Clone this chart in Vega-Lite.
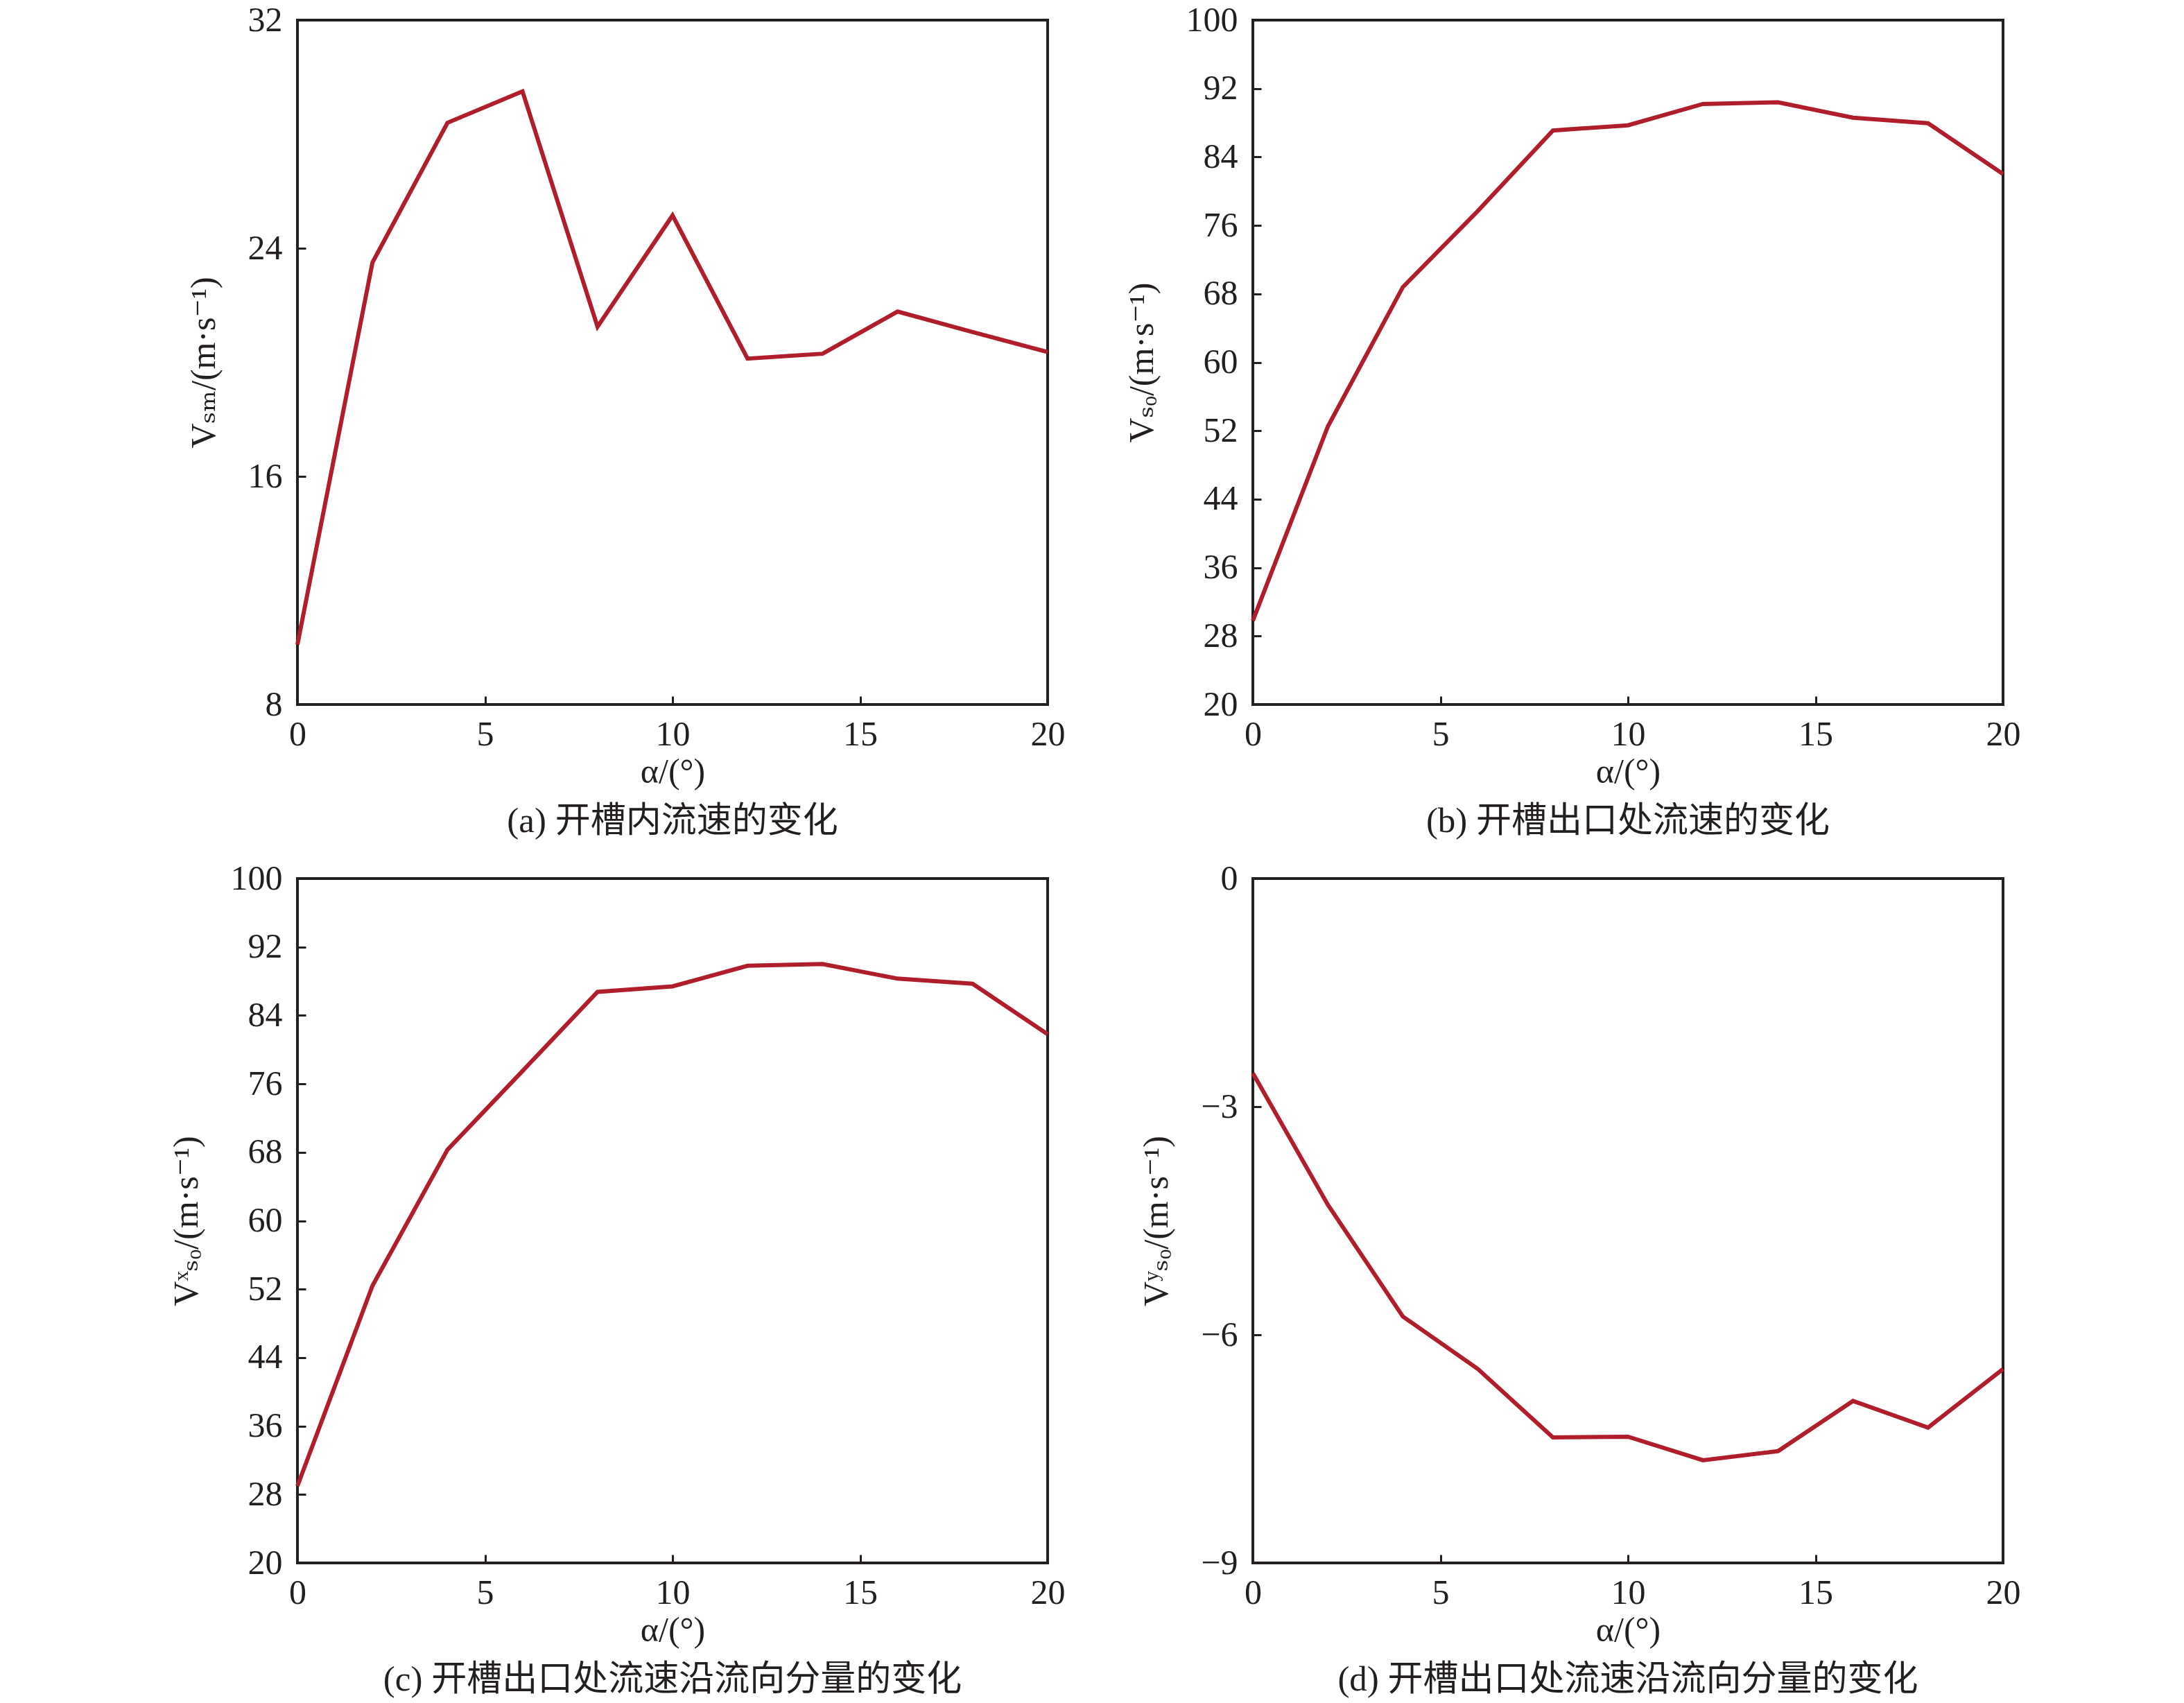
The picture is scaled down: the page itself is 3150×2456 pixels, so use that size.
{
  "$schema": "https://vega.github.io/schema/vega-lite/v6.json",
  "autosize": {"type": "pad"},
  "padding": {"left": 242, "top": 2, "right": 10, "bottom": 10},
  "background": "white",
  "config": {
    "font": "Liberation Serif, Noto Sans CJK SC, serif",
    "view": {"stroke": "#231f20", "strokeWidth": 4},
    "axis": {
      "domain": false, "grid": false, "ticks": true, "tickSize": -12, "tickWidth": 3, "tickColor": "#231f20",
      "labelFont": "Liberation Serif", "labelFontSize": 50, "labelColor": "#231f20", "labelFlush": false,
      "titleFont": "Liberation Serif, DejaVu Serif, serif", "titleFontSize": 50, "titleFontWeight": "normal", "titleColor": "#231f20"
    },
    "axisX": {"labelPadding": 30, "titlePadding": 4},
    "axisY": {"labelPadding": 34, "titlePadding": 38},
    "title": {"orient": "bottom", "fontSize": 51, "fontWeight": "normal", "font": "Liberation Serif, Noto Sans CJK SC, serif", "color": "#231f20", "offset": 22}
  },
  "datasets": {
    "a": [
      {"alpha": 0, "v": 10.1}, {"alpha": 2, "v": 23.5}, {"alpha": 4, "v": 28.4}, {"alpha": 6, "v": 29.5},
      {"alpha": 8, "v": 21.25}, {"alpha": 10, "v": 25.15}, {"alpha": 12, "v": 20.13}, {"alpha": 14, "v": 20.3},
      {"alpha": 16, "v": 21.78}, {"alpha": 18, "v": 21.06}, {"alpha": 20, "v": 20.36}
    ],
    "b": [
      {"alpha": 0, "v": 29.8}, {"alpha": 2, "v": 52.5}, {"alpha": 4, "v": 68.8}, {"alpha": 6, "v": 77.7},
      {"alpha": 8, "v": 87.1}, {"alpha": 10, "v": 87.7}, {"alpha": 12, "v": 90.2}, {"alpha": 14, "v": 90.4},
      {"alpha": 16, "v": 88.6}, {"alpha": 18, "v": 87.95}, {"alpha": 20, "v": 82.0}
    ],
    "c": [
      {"alpha": 0, "v": 29.0}, {"alpha": 2, "v": 52.4}, {"alpha": 4, "v": 68.3}, {"alpha": 6, "v": 77.5},
      {"alpha": 8, "v": 86.75}, {"alpha": 10, "v": 87.4}, {"alpha": 12, "v": 89.8}, {"alpha": 14, "v": 90.0},
      {"alpha": 16, "v": 88.3}, {"alpha": 18, "v": 87.7}, {"alpha": 20, "v": 81.8}
    ],
    "d": [
      {"alpha": 0, "v": -2.56}, {"alpha": 2, "v": -4.29}, {"alpha": 4, "v": -5.76}, {"alpha": 6, "v": -6.45},
      {"alpha": 8, "v": -7.35}, {"alpha": 10, "v": -7.34}, {"alpha": 12, "v": -7.65}, {"alpha": 14, "v": -7.53},
      {"alpha": 16, "v": -6.87}, {"alpha": 18, "v": -7.22}, {"alpha": 20, "v": -6.45}
    ]
  },
  "columns": 2,
  "spacing": {"row": 251, "column": 296},
  "bounds": "flush",
  "concat": [
    {
      "data": {"name": "a"}, "width": 1082, "height": 987,
      "title": "(a) 开槽内流速的变化",
      "mark": {"type": "line", "color": "#b01e2c", "strokeWidth": 6},
      "encoding": {
        "x": {"field": "alpha", "type": "quantitative", "scale": {"domain": [0, 20], "nice": false, "zero": false}, "axis": {"values": [0, 5, 10, 15, 20], "title": "α/(°)"}},
        "y": {"field": "v", "type": "quantitative", "scale": {"domain": [8, 32], "nice": false, "zero": false}, "axis": {"values": [8, 16, 24, 32], "title": "Vₛₘ/(m·s⁻¹)"}}
      }
    },
    {
      "data": {"name": "b"}, "width": 1082, "height": 987,
      "title": "(b) 开槽出口处流速的变化",
      "mark": {"type": "line", "color": "#b01e2c", "strokeWidth": 6},
      "encoding": {
        "x": {"field": "alpha", "type": "quantitative", "scale": {"domain": [0, 20], "nice": false, "zero": false}, "axis": {"values": [0, 5, 10, 15, 20], "title": "α/(°)"}},
        "y": {"field": "v", "type": "quantitative", "scale": {"domain": [20, 100], "nice": false, "zero": false}, "axis": {"values": [20, 28, 36, 44, 52, 60, 68, 76, 84, 92, 100], "title": "Vₛₒ/(m·s⁻¹)"}}
      }
    },
    {
      "data": {"name": "c"}, "width": 1082, "height": 987,
      "title": "(c) 开槽出口处流速沿流向分量的变化",
      "mark": {"type": "line", "color": "#b01e2c", "strokeWidth": 6},
      "encoding": {
        "x": {"field": "alpha", "type": "quantitative", "scale": {"domain": [0, 20], "nice": false, "zero": false}, "axis": {"values": [0, 5, 10, 15, 20], "title": "α/(°)"}},
        "y": {"field": "v", "type": "quantitative", "scale": {"domain": [20, 100], "nice": false, "zero": false}, "axis": {"values": [20, 28, 36, 44, 52, 60, 68, 76, 84, 92, 100], "title": "Vˣₛₒ/(m·s⁻¹)"}}
      }
    },
    {
      "data": {"name": "d"}, "width": 1082, "height": 987,
      "title": "(d) 开槽出口处流速沿流向分量的变化",
      "mark": {"type": "line", "color": "#b01e2c", "strokeWidth": 6},
      "encoding": {
        "x": {"field": "alpha", "type": "quantitative", "scale": {"domain": [0, 20], "nice": false, "zero": false}, "axis": {"values": [0, 5, 10, 15, 20], "title": "α/(°)"}},
        "y": {"field": "v", "type": "quantitative", "scale": {"domain": [-9, 0], "nice": false, "zero": false}, "axis": {"values": [-9, -6, -3, 0], "title": "Vʸₛₒ/(m·s⁻¹)"}}
      }
    }
  ]
}
